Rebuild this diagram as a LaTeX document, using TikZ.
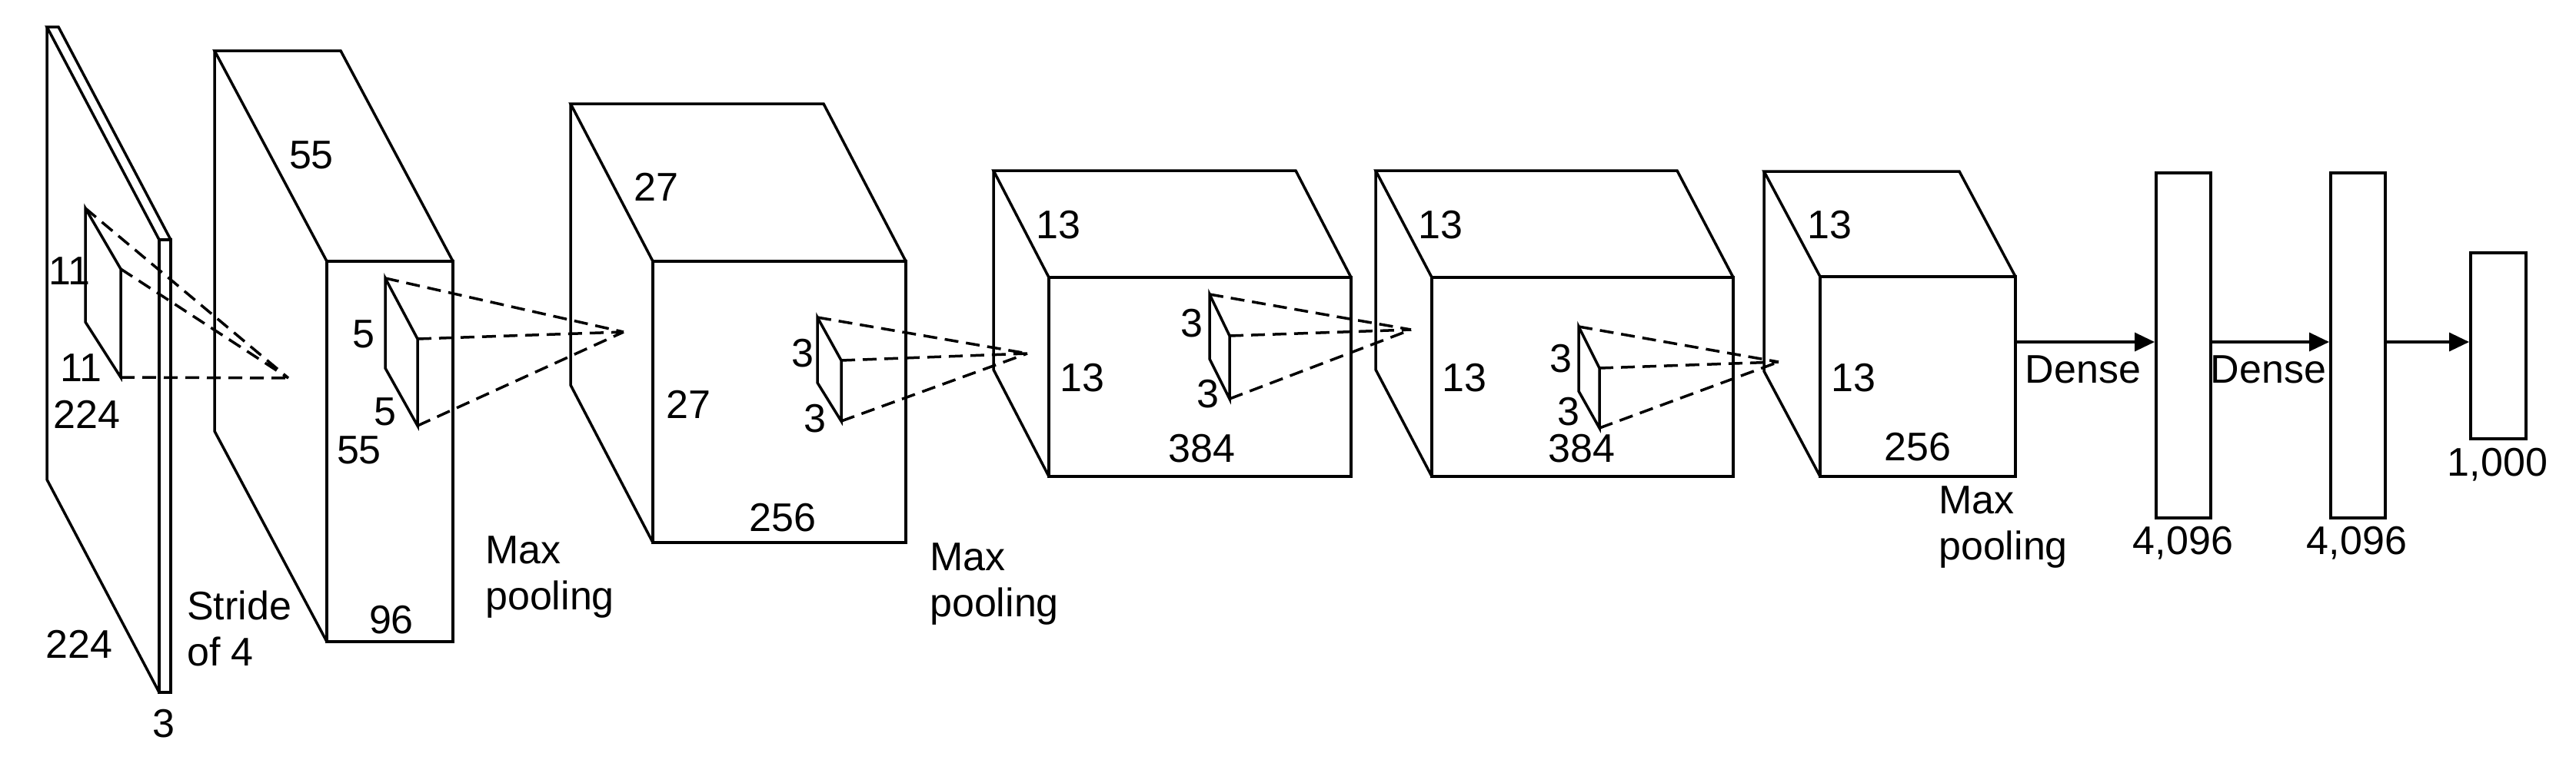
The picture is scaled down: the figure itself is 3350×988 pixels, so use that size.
\documentclass[tikz,border=0pt]{standalone}
\usepackage{fontspec}
\setmainfont{Liberation Sans}
\usetikzlibrary{arrows.meta}
\newcommand\cuboid[6]{% x0 y0 x1 y1 dx dy : front face, back offset
  \draw[box] (#1,#2) rectangle (#3,#4);
  \draw[box] (#1,#2) -- ++(-#5,-#6) -- ++(#3-#1,0) -- (#3,#2);
  \draw[box] (#1-#5,#2-#6) -- (#1-#5,#4-#6) -- (#1,#4);
}
\newcommand\kernbox[7]{% xb yb1 yb2 xf yf1 yf2 apex
  \draw[box] (#1,#2) -- (#1,#3) -- (#4,#6) -- (#4,#5) -- cycle;
  \draw[dsh] (#1,#2) -- (#7) (#4,#5) -- (#7) (#4,#6) -- (#7);
}
\begin{document}
\begin{tikzpicture}[x=1pt,y=-1pt,
  box/.style={line width=3.5pt,line join=miter},
  dsh/.style={line width=3.5pt,dash pattern=on 18pt off 10pt},
  lab/.style={font=\fontsize{52}{60}\selectfont,inner sep=0pt},
  fc/.style={draw,line width=3.5pt,inner sep=0pt,anchor=north west},
  arr/.style={line width=3.5pt,-{Triangle[length=26pt,width=24pt]}}]
\useasboundingbox (0,0) rectangle (3350,988);
% input slab
\cuboid{207}{312}{222}{901}{146}{277}
\coordinate (a1) at (375,492);
\kernbox{111}{271}{419}{157}{350}{491}{a1}
\node[lab] at (90,353) {11};
\node[lab] at (105,479) {11};
\node[lab] at (113,539) {224};
\node[lab] at (103,838) {224};
\node[lab] at (213,942) {3};
\node[lab,align=left,anchor=west] at (243,818) {Stride\\of 4};
% conv1
\cuboid{425}{340}{589}{835}{146}{274}
\coordinate (a2) at (811,432);
\kernbox{501}{362}{479}{543}{441}{554}{a2}
\node[lab] at (405,202) {55};
\node[lab] at (467,586) {55};
\node[lab] at (509,807) {96};
\node[lab] at (473,435) {5};
\node[lab] at (501,536) {5};
\node[lab,align=left,anchor=west] at (631,751) {Max\\pooling};
% conv2
\cuboid{849}{340}{1178}{706}{107}{205}
\coordinate (a3) at (1336,460);
\kernbox{1063}{413}{498}{1094}{469}{548}{a3}
\node[lab] at (853,243) {27};
\node[lab] at (895,526) {27};
\node[lab] at (1018,674) {256};
\node[lab] at (1044,460) {3};
\node[lab] at (1060,545) {3};
\node[lab,align=left,anchor=west] at (1209,760) {Max\\pooling};
% conv3
\cuboid{1364}{361}{1757}{620}{72}{139}
\coordinate (a4) at (1835,429);
\kernbox{1573}{383}{467}{1599}{437}{519}{a4}
\node[lab] at (1376,293) {13};
\node[lab] at (1407,492) {13};
\node[lab] at (1563,584) {384};
\node[lab] at (1550,421) {3};
\node[lab] at (1571,513) {3};
% conv4
\cuboid{1862}{361}{2254}{620}{73}{139}
\coordinate (a5) at (2313,471);
\kernbox{2053}{425}{509}{2080}{479}{557}{a5}
\node[lab] at (1873,293) {13};
\node[lab] at (1904,492) {13};
\node[lab] at (2057,584) {384};
\node[lab] at (2030,467) {3};
\node[lab] at (2040,536) {3};
% conv5
\cuboid{2367}{360}{2621}{620}{73}{137}
\node[lab] at (2379,293) {13};
\node[lab] at (2410,492) {13};
\node[lab] at (2494,582) {256};
\node[lab,align=left,anchor=west] at (2521,686) {Max\\pooling};
\coordinate (c5) at (2621,445);
% dense
\node[fc,minimum width=71pt,minimum height=449pt] (f1) at (2802,223) {};
\node[fc,minimum width=71pt,minimum height=449pt] (f2) at (3029,223) {};
\node[fc,minimum width=72pt,minimum height=242pt] (f3) at (3211,327) {};
\draw[arr] (c5) -- (c5 -| f1.west);
\draw[arr] (c5 -| f1.east) -- (c5 -| f2.west);
\draw[arr] (c5 -| f2.east) -- (c5 -| f3.west);
\node[lab] at (2709,481) {Dense};
\node[lab] at (2950,481) {Dense};
\node[lab] at (2839,707) {4,096};
\node[lab] at (3065,707) {4,096};
\node[lab] at (3248,605) {1,000};
\end{tikzpicture}
\end{document}
